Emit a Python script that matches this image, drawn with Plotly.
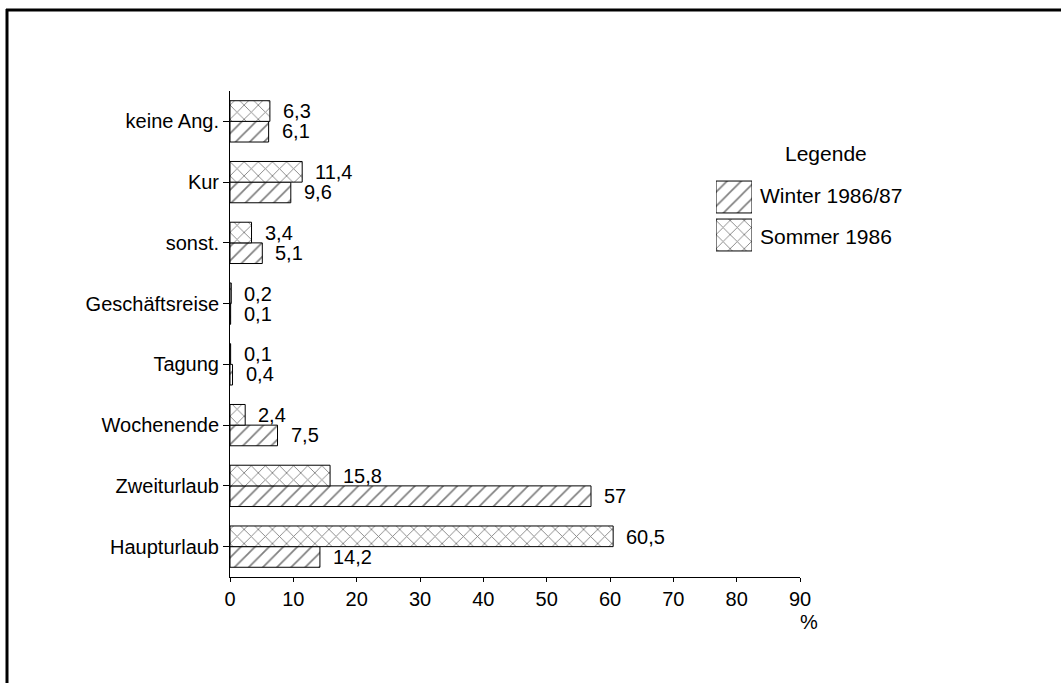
import plotly.graph_objects as go

categories = ["Haupturlaub", "Zweiturlaub", "Wochenende", "Tagung",
              "Geschäftsreise", "sonst.", "Kur", "keine Ang."]
winter = [14.2, 57, 7.5, 0.4, 0.1, 5.1, 9.6, 6.1]
sommer = [60.5, 15.8, 2.4, 0.1, 0.2, 3.4, 11.4, 6.3]
x_ticks = [0, 10, 20, 30, 40, 50, 60, 70, 80, 90]
series_names = ["Winter 1986/87", "Sommer 1986"]
series_shapes = ["/", "x"]

FONT = "Liberation Sans, Arial, sans-serif"
W, H = 1061, 683
ML, MR, MT, MB = 230, 261, 91, 106

pw = W - ML - MR
ph = H - MT - MB
def px_x(px):
    return (px - ML) / pw
def px_y(py):
    return (H - MB - py) / ph

def fmt(v):
    return f"{v:g}".replace(".", ",")

PAT_SIZE, PAT_SOLID = 10, 0.17

def pattern(shape):
    return dict(shape=shape, fgcolor="black", bgcolor="white", size=PAT_SIZE, solidity=PAT_SOLID)

fig = go.Figure()
for name, vals, shp in zip(series_names, [winter, sommer], series_shapes):
    fig.add_trace(go.Bar(
        y=categories, x=vals, orientation="h", name=name, showlegend=False,
        marker=dict(color="white", line=dict(color="black", width=1), pattern=pattern(shp)),
    ))

# custom legend swatches (large hatched boxes) on a hidden small axis pair
fig.add_trace(go.Bar(
    y=[1, 0], x=[1, 1], orientation="h", width=0.84, showlegend=False,
    xaxis="x2", yaxis="y2", hoverinfo="skip",
    marker=dict(color="white", line=dict(color="black", width=1),
                pattern=dict(shape=series_shapes, fgcolor="black", bgcolor="white",
                             size=PAT_SIZE, solidity=PAT_SOLID)),
))

vfont = dict(family=FONT, size=20, color="black")
annotations = []
for c, w, s in zip(categories, winter, sommer):
    annotations.append(dict(x=s, y=c, xref="x", yref="y", text=fmt(s), showarrow=False,
                            xanchor="left", yanchor="middle", xshift=11, yshift=10, font=vfont))
    annotations.append(dict(x=w, y=c, xref="x", yref="y", text=fmt(w), showarrow=False,
                            xanchor="left", yanchor="middle", xshift=11, yshift=-10, font=vfont))
annotations.append(dict(x=px_x(809), y=px_y(622), xref="paper", yref="paper", text="%",
                        showarrow=False, xanchor="center", yanchor="middle", font=vfont))
lfont = dict(family=FONT, size=21, color="black")
annotations.append(dict(x=px_x(826), y=px_y(153), xref="paper", yref="paper", text="Legende",
                        showarrow=False, xanchor="center", yanchor="middle", font=lfont))
annotations.append(dict(x=px_x(758), y=px_y(195), xref="paper", yref="paper", text=series_names[0],
                        showarrow=False, xanchor="left", yanchor="middle", font=lfont))
annotations.append(dict(x=px_x(758), y=px_y(237), xref="paper", yref="paper", text=series_names[1],
                        showarrow=False, xanchor="left", yanchor="middle", font=lfont))

shapes = [
    dict(type="line", xref="paper", yref="paper",
         x0=px_x(6), x1=px_x(1061), y0=px_y(10), y1=px_y(10),
         line=dict(color="black", width=3)),
    dict(type="line", xref="paper", yref="paper",
         x0=px_x(7), x1=px_x(7), y0=px_y(9), y1=px_y(683),
         line=dict(color="black", width=3)),
]

fig.update_layout(
    width=W, height=H,
    margin=dict(l=ML, r=MR, t=MT, b=MB),
    paper_bgcolor="white", plot_bgcolor="white",
    barmode="group", bargap=0.32, bargroupgap=0,
    font=dict(family=FONT, size=20, color="black"),
    xaxis=dict(range=[0, 90], tickvals=x_ticks, ticktext=[str(t) for t in x_ticks],
               showgrid=False, zeroline=False, showline=True, linecolor="black", linewidth=1,
               ticks="outside", ticklen=4, tickcolor="black", tickwidth=1,
               tickfont=dict(family=FONT, size=20, color="black")),
    yaxis=dict(categoryorder="array", categoryarray=categories, range=[-0.5, 7.5],
               showgrid=False, zeroline=False, showline=True, linecolor="black", linewidth=1,
               ticks="outside", ticklen=6, tickcolor="black", tickwidth=1,
               tickfont=dict(family=FONT, size=20, color="black")),
    xaxis2=dict(domain=[px_x(716), px_x(752)], range=[0, 1], anchor="y2", visible=False,
                fixedrange=True),
    yaxis2=dict(domain=[px_y(254), px_y(178)], range=[-0.5, 1.5], anchor="x2", visible=False,
                fixedrange=True),
    annotations=annotations,
    shapes=shapes,
    showlegend=False,
)

fig.write_html("out.html", config={"displayModeBar": False},
               post_script="document.body.style.margin='0';document.body.style.padding='0';")
